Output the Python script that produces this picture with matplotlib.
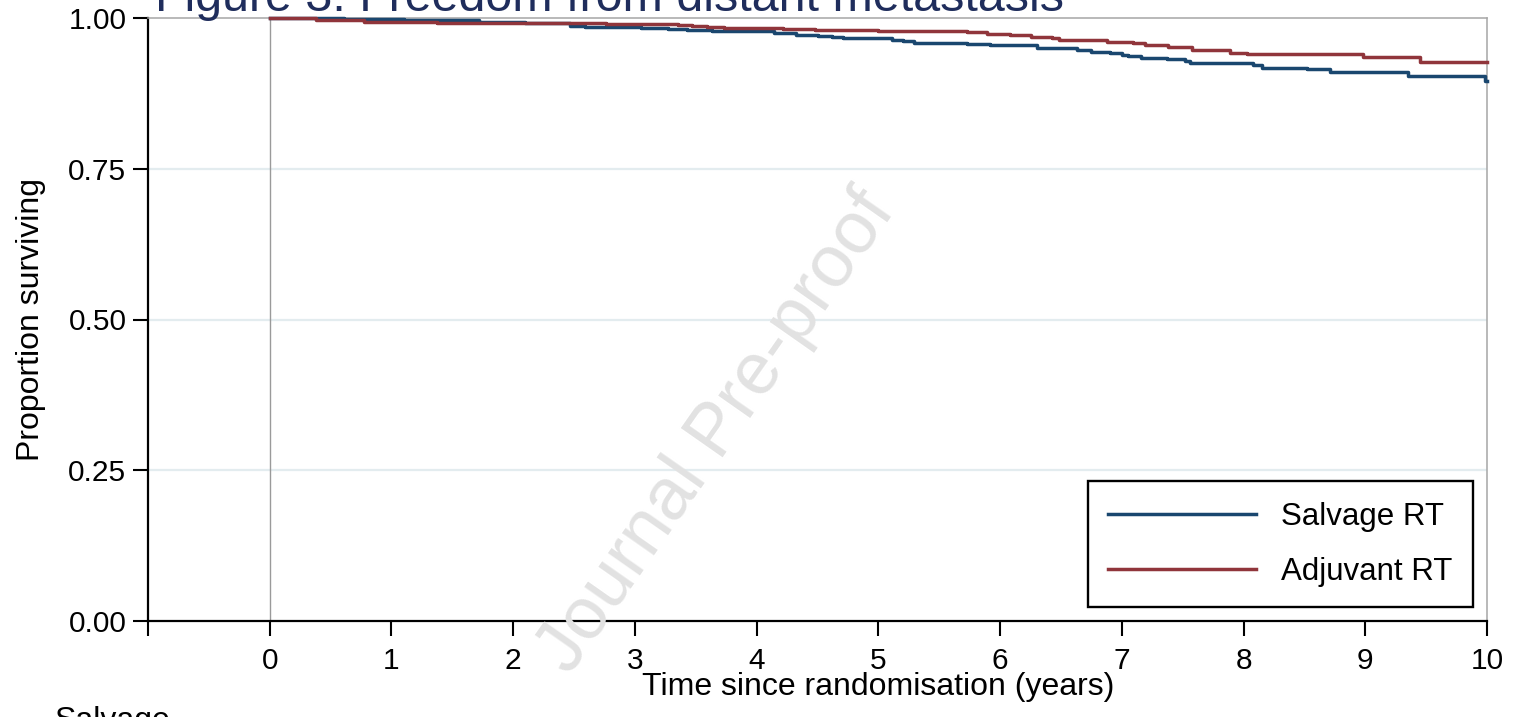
import matplotlib
matplotlib.use('Agg')
import matplotlib.pyplot as plt

plt.rcParams['font.family'] = ['Liberation Sans', 'DejaVu Sans']

# Kaplan-Meier steps: time since randomisation (years) and proportion surviving
salvage_t = [0.0, 0.61, 1.10, 1.72, 2.10, 2.47, 2.59, 3.05, 3.27, 3.43, 3.63,
             4.14, 4.32, 4.50, 4.62, 4.71, 5.11, 5.20, 5.29, 5.73, 5.92,
             6.30, 6.63, 6.75, 6.90, 7.00, 7.05, 7.16, 7.37, 7.52, 7.56,
             8.08, 8.15, 8.52, 8.71, 9.35, 9.98, 10.0]
salvage_s = [1.000, 0.999, 0.997, 0.994, 0.991, 0.987, 0.9856, 0.9834, 0.9818, 0.980, 0.978,
             0.9757, 0.9723, 0.9707, 0.969, 0.9663, 0.964, 0.9618, 0.959, 0.957, 0.955,
             0.9508, 0.947, 0.944, 0.9414, 0.9386, 0.937, 0.934, 0.9315, 0.9287, 0.925,
             0.9215, 0.9176, 0.915, 0.9104, 0.9038, 0.8955, 0.8955]

adjuvant_t = [0.0, 0.38, 0.775, 1.377, 1.856, 2.76, 3.35, 3.47, 3.59, 3.73,
              4.22, 4.48, 5.00, 5.73, 5.89, 6.08, 6.25, 6.43, 6.48, 6.88,
              7.09, 7.19, 7.38, 7.58, 7.89, 8.03, 8.98, 9.45, 10.0]
adjuvant_s = [1.000, 0.996, 0.994, 0.992, 0.991, 0.9895, 0.9878, 0.9867, 0.985, 0.983,
              0.982, 0.9806, 0.978, 0.9763, 0.974, 0.972, 0.969, 0.9663, 0.9635, 0.9607,
              0.958, 0.955, 0.9524, 0.947, 0.9425, 0.9398, 0.9353, 0.9276, 0.9276]

x_ticks = [-1, 0, 1, 2, 3, 4, 5, 6, 7, 8, 9, 10]
x_ticklabels = ['', '0', '1', '2', '3', '4', '5', '6', '7', '8', '9', '10']
y_ticks = [0.0, 0.25, 0.5, 0.75, 1.0]
y_ticklabels = ['0.00', '0.25', '0.50', '0.75', '1.00']

NAVY = '#1a476f'
MAROON = '#90353b'

W, H = 1514, 717
fig = plt.figure(figsize=(W / 100, H / 100), dpi=100)
ax = fig.add_axes([148 / W, 1 - 621 / H, (1487 - 148) / W, (621 - 18) / H])

for y in y_ticks[1:-1]:
    ax.axhline(y, color='#e3ecef', lw=1.6, zorder=1)
ax.axvline(0, color='#9a9a9a', lw=1.0, zorder=1)

ax.step(salvage_t, salvage_s, where='post', color=NAVY, lw=2.5,
        label='Salvage RT', zorder=3, clip_on=False)
ax.step(adjuvant_t, adjuvant_s, where='post', color=MAROON, lw=2.5,
        label='Adjuvant RT', zorder=4, clip_on=False)

ax.set_xlim(-1, 10)
ax.set_ylim(0, 1)
ax.set_xticks(x_ticks)
ax.set_xticklabels(x_ticklabels)
ax.set_yticks(y_ticks)
ax.set_yticklabels(y_ticklabels)
ax.tick_params(direction='out', length=10.5, width=1.5, labelsize=21.5, colors='black')
ax.tick_params(axis='y', pad=5)
ax.tick_params(axis='x', pad=8)

for side in ['top', 'right']:
    ax.spines[side].set_color('#a6a6a6')
    ax.spines[side].set_linewidth(1.1)
for side in ['left', 'bottom']:
    ax.spines[side].set_color('black')
    ax.spines[side].set_linewidth(1.6)

ax.set_xlabel('Time since randomisation (years)', fontsize=23)
ax.xaxis.set_label_coords((878 - 148) / (1487 - 148), (621 - 672) / (621 - 18))
ax.set_ylabel('Proportion surviving', fontsize=23)
ax.yaxis.set_label_coords((46 - 148) / (1487 - 148), 0.5)

leg = ax.legend(loc='lower right', fontsize=22.5, frameon=True, fancybox=False,
                edgecolor='black', framealpha=1, handlelength=4.75, handletextpad=0.8,
                borderpad=0.65, labelspacing=0.8, borderaxespad=0.45)
leg.get_frame().set_linewidth(1.7)

fig.text(155 / W, 1 - 11 / H, 'Figure 3: Freedom from distant metastasis',
         fontsize=34.8, color='#1f2d5c', ha='left', va='baseline')
fig.text(55 / W, 1 - 706 / H, 'Salvage', fontsize=23, ha='left', va='top')

# watermark
fig.text(717 / W, 1 - 432 / H, 'Journal Pre-proof', fontsize=53, color='#e2e2e2',
         rotation=55, ha='center', va='center', zorder=0)

fig.savefig('out.png', dpi=100)
